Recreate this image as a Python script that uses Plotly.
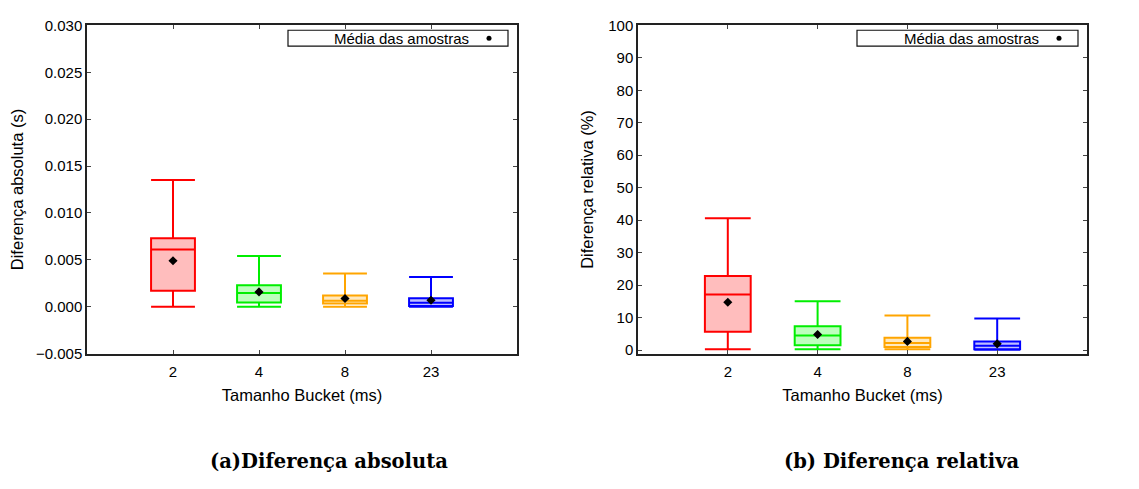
import plotly.graph_objects as go

W, H = 1139, 489

categories = ["2", "4", "8", "23"]
positions = [1, 2, 3, 4]
colors = ["#ff0000", "#00ee00", "#ffa500", "#0000ff"]
fills = ["rgba(255,0,0,0.26)", "rgba(0,255,0,0.26)", "rgba(255,165,0,0.26)", "rgba(0,0,255,0.26)"]

# Diferença absoluta (s)
abs_lower = [0.0, 0.0, 0.0, 0.0]
abs_q1 = [0.0017, 0.00046, 0.00035, 0.00008]
abs_median = [0.0061, 0.00145, 0.00063, 0.00042]
abs_q3 = [0.0073, 0.0023, 0.0012, 0.0009]
abs_upper = [0.0135, 0.0054, 0.00354, 0.00316]
abs_mean = [0.0049, 0.00158, 0.00087, 0.00069]

# Diferença relativa (%)
rel_lower = [0.2, 0.2, 0.2, 0.1]
rel_q1 = [5.6, 1.5, 0.9, 0.2]
rel_median = [17.1, 4.45, 2.2, 1.3]
rel_q3 = [22.8, 7.3, 3.75, 2.6]
rel_upper = [40.6, 15.0, 10.6, 9.7]
rel_mean = [14.7, 4.8, 2.65, 1.9]

legend_text = "Média das amostras"

fig = go.Figure()

def add_boxes(xa, ya, lower, q1, med, q3, upper, mean):
    for i in range(len(categories)):
        fig.add_trace(go.Box(
            x=[positions[i]], q1=[q1[i]], median=[med[i]], q3=[q3[i]],
            lowerfence=[lower[i]], upperfence=[upper[i]],
            width=0.51, whiskerwidth=1, fillcolor=fills[i],
            line=dict(color=colors[i], width=2), boxpoints=False,
            xaxis=xa, yaxis=ya, showlegend=False, hoverinfo="skip"))
    fig.add_trace(go.Scatter(
        x=positions, y=mean, mode="markers",
        marker=dict(symbol="diamond", size=7, color="black"),
        xaxis=xa, yaxis=ya, showlegend=False, name=legend_text))

add_boxes("x", "y", abs_lower, abs_q1, abs_median, abs_q3, abs_upper, abs_mean)
add_boxes("x2", "y2", rel_lower, rel_q1, rel_median, rel_q3, rel_upper, rel_mean)

def px_x(p):
    return p / W

def px_y(p):
    return 1 - p / H

font_fam = "Liberation Sans, Arial, sans-serif"
axis_common = dict(showline=True, linecolor="#222", linewidth=1.5, mirror="ticks",
                   ticks="inside", ticklen=4, tickcolor="#444", tickwidth=1,
                   showgrid=False, zeroline=False,
                   tickfont=dict(family=font_fam, size=15, color="black"))

ydom = [px_y(357), px_y(17)]
fig.update_layout(
    width=W, height=H, margin=dict(l=0, r=0, t=0, b=0),
    paper_bgcolor="white", plot_bgcolor="white", boxmode="overlay",
    font=dict(family=font_fam, color="black"),
    xaxis=dict(domain=[px_x(87), px_x(517)], range=[0, 5], tickvals=positions, ticktext=categories,
               ticklabelstandoff=4,
               title=dict(text="Tamanho Bucket (ms)", font=dict(size=16.5), standoff=10), **axis_common),
    yaxis=dict(domain=ydom, range=[-0.005, 0.030], dtick=0.005, tickformat=".3f",
               title=dict(text="Diferença absoluta (s)", font=dict(size=16.5), standoff=8), **axis_common),
    xaxis2=dict(domain=[px_x(638), px_x(1087)], range=[0, 5], tickvals=positions, ticktext=categories,
                anchor="y2", ticklabelstandoff=4,
                title=dict(text="Tamanho Bucket (ms)", font=dict(size=16.5), standoff=10), **axis_common),
    yaxis2=dict(domain=ydom, range=[-1.1, 100], dtick=10, anchor="x2",
                title=dict(text="Diferença relativa (%)", font=dict(size=16.5), standoff=10), **axis_common),
    showlegend=False,
)

# custom legend boxes (text then symbol, gnuplot style)
shapes = []
annotations = []
for (bx0, bx1, txt_right, dot_x) in [(288, 508, 471, 489), (857, 1078, 1041, 1059)]:
    shapes.append(dict(type="rect", xref="paper", yref="paper",
                       x0=px_x(bx0), x1=px_x(bx1), y0=px_y(38.5), y1=px_y(22),
                       line=dict(color="#111", width=1.2), fillcolor="white"))
    shapes.append(dict(type="circle", xref="paper", yref="paper", xsizemode="pixel", ysizemode="pixel",
                       xanchor=px_x(dot_x), yanchor=px_y(30.3), x0=-2.5, x1=2.5, y0=-2.5, y1=2.5,
                       line=dict(color="black", width=0), fillcolor="black"))
    annotations.append(dict(text=legend_text, xref="paper", yref="paper", x=px_x(txt_right), y=px_y(30.5),
                            xanchor="right", yanchor="middle", showarrow=False,
                            font=dict(family=font_fam, size=15, color="black")))

cap_font = dict(family="DejaVu Serif, serif", size=19.5, color="black")
annotations.append(dict(text="<b>(a)Diferença absoluta</b>", xref="paper", yref="paper",
                        x=px_x(329), y=px_y(469), xanchor="center", yanchor="middle",
                        showarrow=False, font=cap_font))
annotations.append(dict(text="<b>(b) Diferença relativa</b>", xref="paper", yref="paper",
                        x=px_x(902), y=px_y(469), xanchor="center", yanchor="middle",
                        showarrow=False, font=cap_font))

fig.update_layout(shapes=shapes, annotations=annotations)

fig.write_html("out.html")
